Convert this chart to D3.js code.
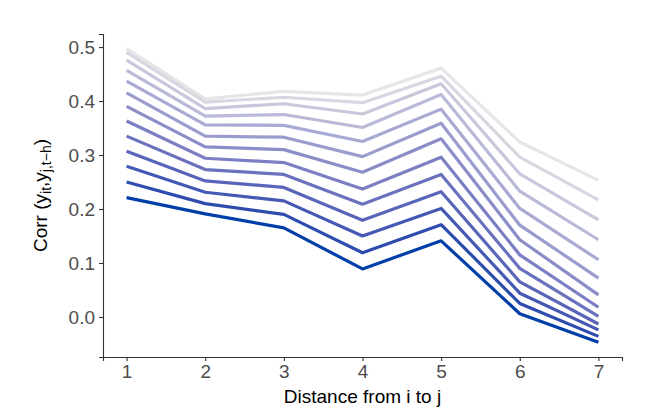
<!DOCTYPE html>
<html>
<head>
	<meta charset="utf-8">
	<title>Correlation by distance</title>
	<script src="https://cdn.jsdelivr.net/npm/d3@7"></script>
	<style>
		body {
			margin: 0;
			background: #fff;
			font-family: "Liberation Sans", Arial, sans-serif;
		}
	</style>
</head>
<body>
	<div id="chart"></div>
	<script>

		// data: one series per lag, darkest first
		const distances = [1, 2, 3, 4, 5, 6, 7];
		const yTicks = [0.0, 0.1, 0.2, 0.3, 0.4, 0.5];
		const series = [
			[0.221, 0.191, 0.165, 0.089, 0.141, 0.006, -0.047],
			[0.250, 0.210, 0.190, 0.119, 0.171, 0.025, -0.036],
			[0.279, 0.231, 0.215, 0.150, 0.201, 0.044, -0.024],
			[0.307, 0.252, 0.240, 0.179, 0.232, 0.065, -0.013],
			[0.335, 0.273, 0.264, 0.209, 0.264, 0.090, 0.001],
			[0.363, 0.294, 0.286, 0.237, 0.296, 0.115, 0.018],
			[0.390, 0.315, 0.310, 0.268, 0.330, 0.143, 0.041],
			[0.415, 0.335, 0.333, 0.297, 0.359, 0.170, 0.072],
			[0.437, 0.356, 0.355, 0.325, 0.385, 0.201, 0.106],
			[0.457, 0.372, 0.375, 0.351, 0.412, 0.233, 0.143],
			[0.476, 0.386, 0.395, 0.376, 0.432, 0.265, 0.180],
			[0.490, 0.398, 0.407, 0.397, 0.446, 0.296, 0.217],
			[0.497, 0.404, 0.418, 0.411, 0.461, 0.324, 0.253],
		];

		const width = 664, height = 414;
		const margin = {top: 34, right: 42, bottom: 57, left: 103};

		const svg = d3.select("#chart").append("svg")
			.attr("width", width)
			.attr("height", height);

		// ggplot-style 5% expansion
		const xExt = d3.extent(distances);
		const xPad = (xExt[1] - xExt[0]) * 0.05;
		const x = d3.scaleLinear()
			.domain([xExt[0] - xPad, xExt[1] + xPad])
			.range([margin.left, width - margin.right]);

		const yExt = d3.extent(series.flat());
		const yPad = (yExt[1] - yExt[0]) * 0.05;
		const y = d3.scaleLinear()
			.domain([yExt[0] - yPad, yExt[1] + yPad])
			.range([height - margin.bottom, margin.top]);

		const color = d3.scaleLinear()
			.domain([0, series.length - 1])
			.range(["#003fa8", "#e6e6e6"])
			.interpolate(d3.interpolateLab);

		const line = d3.line()
			.x((d, i) => x(distances[i]))
			.y(d => y(d));

		// lighter lines underneath
		svg.append("g")
			.selectAll("path")
			.data(series.map((s, i) => ({s, i})).reverse())
			.join("path")
			.attr("fill", "none")
			.attr("stroke", d => color(d.i))
			.attr("stroke-width", 3.2)
			.attr("stroke-linejoin", "round")
			.attr("d", d => line(d.s));

		const axisStyle = g => {
			g.attr("font-size", null).attr("font-family", null);
			g.selectAll(".domain").attr("stroke", "#333").attr("stroke-width", 1.1);
			g.selectAll(".tick line").attr("stroke", "#333").attr("stroke-width", 1.1);
			g.selectAll(".tick text")
				.attr("fill", "#4d4d4d")
				.style("font-size", "19px");
		};

		svg.append("g")
			.attr("transform", `translate(0,${height - margin.bottom})`)
			.call(d3.axisBottom(x).tickValues(distances).tickFormat(d3.format("d"))
				.tickSizeOuter(0).tickSize(4).tickPadding(4))
			.call(axisStyle);

		svg.append("g")
			.attr("transform", `translate(${margin.left},0)`)
			.call(d3.axisLeft(y).tickValues(yTicks).tickFormat(d3.format(".1f"))
				.tickSizeOuter(0).tickSize(4).tickPadding(4))
			.call(axisStyle);

		// axis titles
		svg.append("text")
			.attr("x", (margin.left + width - margin.right) / 2)
			.attr("y", height - 11)
			.attr("text-anchor", "middle")
			.style("font-size", "19px")
			.text("Distance from i to j");

		const yt = svg.append("text")
			.attr("transform", `translate(47,${(margin.top + height - margin.bottom) / 2}) rotate(-90)`)
			.attr("text-anchor", "middle")
			.style("font-size", "19px");
		yt.append("tspan").text("Corr (y");
		yt.append("tspan").attr("baseline-shift", "-25%").style("font-size", "14px").text("it");
		yt.append("tspan").text(",y");
		yt.append("tspan").attr("baseline-shift", "-25%").style("font-size", "14px").text("j,t\u2212h");
		yt.append("tspan").text(")");

	</script>
</body>
</html>
